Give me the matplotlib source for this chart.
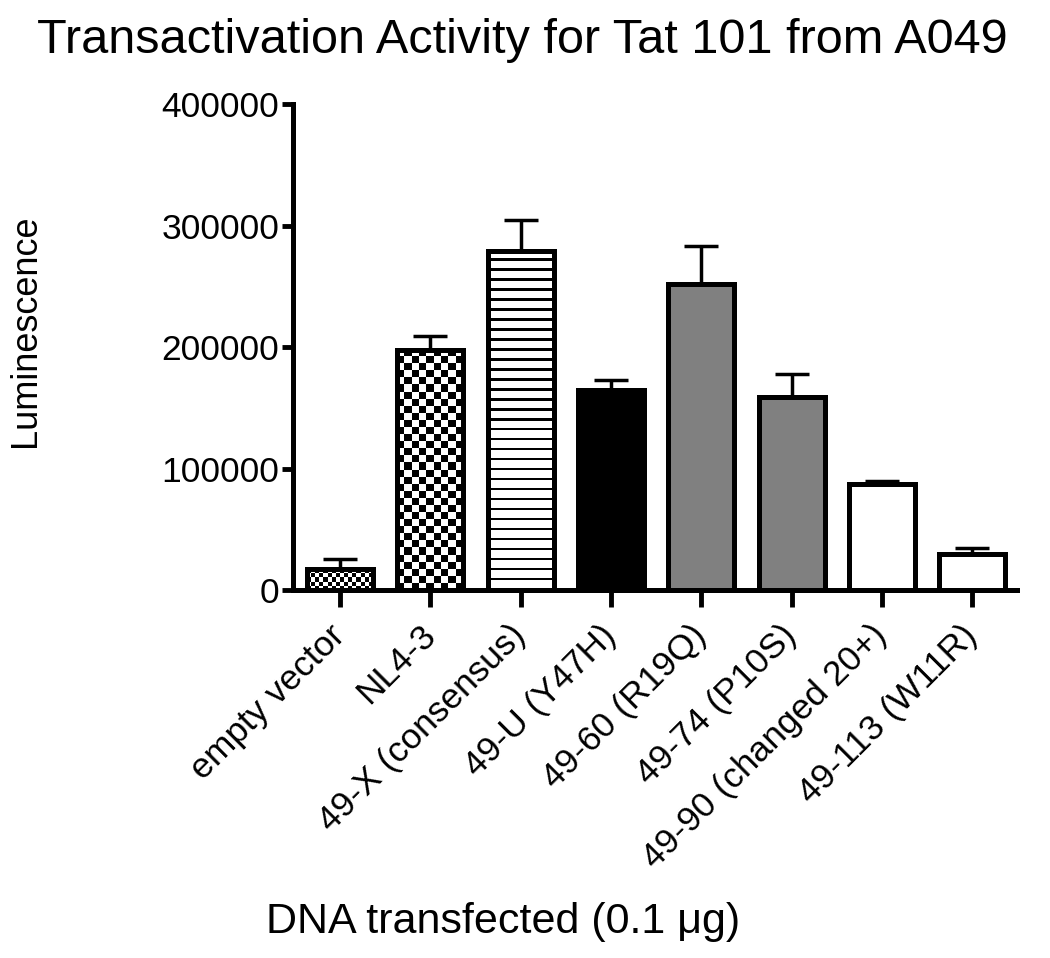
import matplotlib
matplotlib.use("Agg")
import matplotlib.pyplot as plt
import numpy as np

plt.rcParams['font.family'] = ['Liberation Sans', 'DejaVu Sans']

categories = ["empty vector", "NL4-3", "49-X (consensus)", "49-U (Y47H)",
              "49-60 (R19Q)", "49-74 (P10S)", "49-90 (changed 20+)", "49-113 (W11R)"]
values = [17000, 198000, 279000, 165000, 252000, 159000, 87000, 30000]
errors = [9000, 11000, 26000, 8000, 31000, 19000, 2500, 5000]
fills = ["fine_check", "check", "stripes", "black", "gray", "gray", "white", "white"]
yticks = [0, 100000, 200000, 300000, 400000]

fig = plt.figure(figsize=(10.5, 9.58), dpi=100)
ax = fig.add_axes([0.279, 0.384, 0.690, 0.507])

x = np.arange(len(categories))
width = 0.73
lw = 3.6
facecolors = {"black": "black", "gray": "#808080", "white": "white",
              "fine_check": "white", "check": "white", "stripes": "white"}

ax.errorbar(x, values, yerr=[np.zeros(len(values)), errors], fmt='none',
            ecolor='black', elinewidth=2.5, capsize=12, capthick=2.5, zorder=1)

bars = ax.bar(x, values, width=width, color=[facecolors[f] for f in fills],
              edgecolor='black', linewidth=lw, zorder=3)

ax.set_xlim(-0.52, 7.5)
ax.set_ylim(0, 400000)
fig.canvas.draw()

# pattern fills drawn as images clipped to the bars
for b, f in zip(bars, fills):
    if f not in ("fine_check", "check", "stripes"):
        continue
    x0, y0 = b.get_x(), b.get_y()
    w, h = b.get_width(), b.get_height()
    p0 = ax.transData.transform((x0, y0))
    p1 = ax.transData.transform((x0 + w, y0 + h))
    wpx, hpx = abs(p1[0] - p0[0]), abs(p1[1] - p0[1])
    if f == "check":
        cell = 7.0
        nx, ny = int(round(wpx / cell)), int(round(hpx / cell))
        img = (np.add.outer(np.arange(ny), np.arange(nx)) % 2).astype(float)
    elif f == "fine_check":
        cell = 4.0
        nx, ny = int(round(wpx / cell)), int(round(hpx / cell))
        img = (np.add.outer(np.arange(ny), np.arange(nx)) % 2).astype(float)
    else:
        period = 10.0
        ny = int(round(hpx / period * 4))
        img = np.ones((ny, 1))
        img[::4, 0] = 0
    im = ax.imshow(img, cmap='gray', vmin=0, vmax=1, extent=(x0, x0 + w, y0, y0 + h),
                   aspect='auto', interpolation='nearest', zorder=2, origin='lower')
    im.set_clip_path(b)
    b.set_facecolor('none')

ax.set_xlim(-0.52, 7.5)
ax.set_ylim(0, 400000)

for s in ['top', 'right']:
    ax.spines[s].set_visible(False)
for s in ['left', 'bottom']:
    ax.spines[s].set_linewidth(lw)

ax.set_yticks(yticks)
ax.set_yticklabels([str(v) for v in yticks], fontsize=25.5)
ax.set_xticks(x)
ax.set_xticklabels(categories, fontsize=25.5, rotation=45, ha='right',
                   rotation_mode='anchor', va='center')
ax.tick_params(axis='y', direction='out', length=8, width=3.5, pad=2)
ax.tick_params(axis='x', direction='out', length=12, width=3.5, pad=17)

ax.set_ylabel("Luminescence", fontsize=26)
ax.yaxis.set_label_coords(-0.345, 0.535)
fig.text(0.479, 0.0376, "DNA transfected (0.1 \u03bcg)", fontsize=31, ha='center', va='center')
fig.text(0.497, 0.958, "Transactivation Activity for Tat 101 from A049", fontsize=35,
         ha='center', va='center')

fig.savefig("out.png", dpi=100)
